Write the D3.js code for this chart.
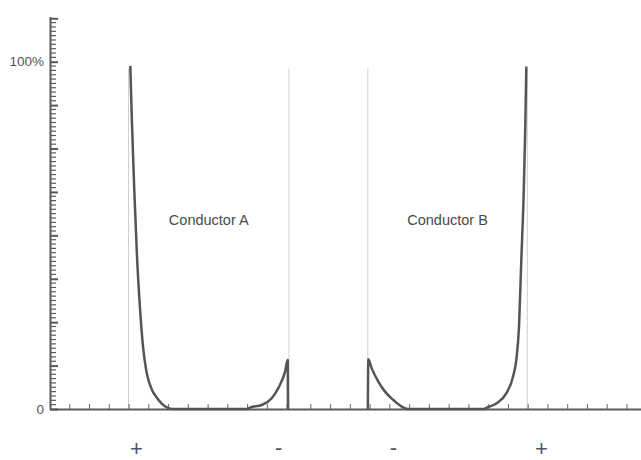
<!DOCTYPE html>
<html lang="en">

<head>
    <meta charset="UTF-8">
    <script src="https://cdn.jsdelivr.net/npm/d3@7/dist/d3.min.js"></script>
    <style>
        body { margin: 0; background: #fff; }
    </style>
</head>

<body>

    <script>

        // x ticks (position units), two groups
        const xTicksA = [1, 2, 3, 4, 5, 6, 7, 8, 9, 10, 11, 12];
        const xTicksB = [13.2, 14.2, 15.2, 16.2, 17.2, 18.2, 19.2, 20.2, 21.2, 22.2, 23.2, 24.2, 25.2, 26.2, 27.2, 28.2, 29.2];

        // conductor edges
        const edges = [4.0, 12.12, 16.11, 24.18];
        const conductorNames = ["Conductor A", "Conductor B"];

        // sign labels under the axis
        const signText = ["+", "-", "-", "+"];
        const signPos = [4.4, 11.6, 17.4, 24.9];

        // y tick labels
        const yLabelValues = [0, 1];
        const yLabelText = ["0", "100%"];

        // current density: [position, fraction]
        const curveA = [
            [4.089, 0.988], [4.175, 0.82], [4.291, 0.63], [4.428, 0.44], [4.58, 0.29],
            [4.732, 0.18], [4.884, 0.115], [5.0, 0.085], [5.187, 0.055], [5.425, 0.033],
            [5.693, 0.015], [5.997, 0.003], [6.2, 0], [10.0, 0], [10.147, 0.004],
            [10.739, 0.0115], [11.245, 0.031], [11.579, 0.06], [11.918, 0.107],
            [12.055, 0.141], [12.07, 0]
        ];
        const curveB = [
            [16.11, 0], [16.134, 0.143], [16.306, 0.117], [16.64, 0.079], [16.979, 0.05],
            [17.399, 0.026], [17.824, 0.007], [18.143, 0], [22.0, 0], [22.105, 0.003],
            [22.611, 0.016], [23.117, 0.045], [23.457, 0.093], [23.623, 0.141],
            [23.76, 0.237], [23.877, 0.429], [23.998, 0.621], [24.079, 0.813], [24.13, 0.986]
        ];

        const width = 641, height = 460;

        const svg = d3.select("body").append("svg")
            .attr("width", width)
            .attr("height", height);

        // scales
        const x = d3.scaleLinear().domain([0, 30]).range([49.5, 49.5 + 30 * 19.76]);
        const y = d3.scaleLinear().domain([0, 1.13]).range([409, 409 - 1.13 * 347.3]);

        // conductor boundary lines
        svg.selectAll(".edge")
            .data(edges)
            .enter().append("line")
            .attr("x1", d => x(d)).attr("x2", d => x(d))
            .attr("y1", y(0)).attr("y2", y(0.98))
            .attr("stroke", "#cfcfcf")
            .attr("stroke-width", 1);

        // x axis, ticks pointing up
        const xAxis = svg.append("g")
            .attr("transform", `translate(0,${y(0)})`)
            .call(d3.axisTop(x)
                .tickValues(xTicksA.concat(xTicksB))
                .tickSize(5)
                .tickSizeOuter(0)
                .tickFormat(""));
        xAxis.select(".domain").attr("stroke", "#5a5a5a").attr("stroke-width", 2);
        xAxis.selectAll(".tick line").attr("stroke", "#666");

        // y axis: minor ticks every 1.25 %, major every 12.5 %
        const minorTicks = d3.range(0, 91).filter(i => i % 10 != 0).map(i => i * 0.0125);
        const majorTicks = d3.range(0, 10).map(i => i * 0.125);

        svg.append("g")
            .selectAll("line")
            .data(minorTicks)
            .enter().append("line")
            .attr("x1", 50).attr("x2", 56)
            .attr("y1", d => y(d))
            .attr("y2", d => y(d))
            .attr("stroke", "#5a5a5a")
            .attr("stroke-width", 1.2);

        const yMajor = svg.append("g")
            .attr("transform", `translate(50,0)`)
            .call(d3.axisRight(y).tickValues(majorTicks).tickSize(8).tickSizeOuter(0).tickFormat(""));
        yMajor.select(".domain").attr("stroke", "#5a5a5a").attr("stroke-width", 2);
        yMajor.selectAll(".tick line").attr("stroke", "#5a5a5a").attr("stroke-width", 2);

        // y labels
        svg.selectAll(".ylab")
            .data(yLabelValues)
            .enter().append("text")
            .attr("x", 44)
            .attr("y", d => y(d))
            .attr("dy", "0.35em")
            .attr("text-anchor", "end")
            .style("font-family", "Liberation Sans, Arial, sans-serif")
            .style("font-size", "13.5px")
            .style("fill", "#4d5566")
            .text((d, i) => yLabelText[i]);

        // curves
        const line = d3.line()
            .x(d => x(d[0]))
            .y(d => y(d[1]))
            .curve(d3.curveMonotoneX);

        svg.selectAll(".curve")
            .data([curveA, curveB])
            .enter().append("path")
            .attr("d", line)
            .attr("fill", "none")
            .attr("stroke", "#555")
            .attr("stroke-width", 2.5)
            .attr("stroke-linejoin", "round");

        // conductor names
        svg.selectAll(".name")
            .data(conductorNames)
            .enter().append("text")
            .attr("x", (d, i) => x((edges[i * 2] + edges[i * 2 + 1]) / 2))
            .attr("y", y(0.53))
            .attr("text-anchor", "middle")
            .style("font-family", "Liberation Sans, Arial, sans-serif")
            .style("font-size", "14.5px")
            .style("fill", "#4a4a4a")
            .text(d => d);

        // + / - labels
        svg.selectAll(".sign")
            .data(signText)
            .enter().append("text")
            .attr("x", (d, i) => x(signPos[i]))
            .attr("y", d => d == "+" ? 456 : 455)
            .attr("text-anchor", "middle")
            .style("font-family", "Liberation Sans, Arial, sans-serif")
            .style("font-size", "22px")
            .style("fill", "#4d5566")
            .text(d => d);

    </script>
</body>

</html>
